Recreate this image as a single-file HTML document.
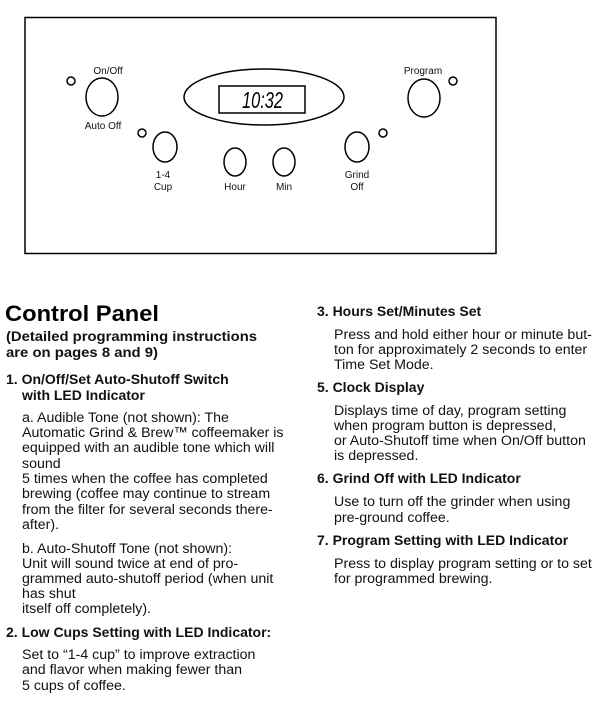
<!DOCTYPE html>
<html><head><style>
html,body{margin:0;padding:0;background:#fff;}
svg{display:block;font-family:"Liberation Sans",Arial,sans-serif;}
.b{font-size:14.2px;fill:#111;}
.h{font-size:14px;font-weight:bold;fill:#111;}
.l{font-size:10px;fill:#111;}
</style></head><body>
<svg width="610" height="707" viewBox="0 0 610 707" xmlns="http://www.w3.org/2000/svg">
<rect x="25" y="17.5" width="471" height="236" fill="none" stroke="#000" stroke-width="1.5"/>
<g fill="none" stroke="#000" stroke-width="1.5">
<circle cx="71" cy="81" r="4"/>
<ellipse cx="102" cy="97" rx="16" ry="19"/>
<ellipse cx="264" cy="97" rx="80" ry="28"/>
<rect x="219" y="86" width="86" height="27"/>
<ellipse cx="424" cy="98" rx="16" ry="19"/>
<circle cx="453" cy="81" r="4"/>
<circle cx="142" cy="133" r="4"/>
<ellipse cx="165" cy="147" rx="12" ry="15"/>
<ellipse cx="235" cy="162" rx="11" ry="14"/>
<ellipse cx="284" cy="162" rx="11" ry="14"/>
<ellipse cx="357" cy="147" rx="12" ry="15"/>
<circle cx="383" cy="133" r="4"/>
</g>
<text x="242" y="108" font-size="23" font-style="italic" fill="#000" textLength="41" lengthAdjust="spacingAndGlyphs">10:32</text>
<g class="l" text-anchor="middle">
<text x="108" y="74">On/Off</text>
<text x="103" y="129">Auto Off</text>
<text x="423" y="74">Program</text>
<text x="163" y="178">1-4</text>
<text x="163" y="190">Cup</text>
<text x="235" y="190">Hour</text>
<text x="284" y="190">Min</text>
<text x="357" y="178">Grind</text>
<text x="357" y="190">Off</text>
</g>
<text x="5" y="321" font-size="22" font-weight="bold" fill="#000" textLength="154" lengthAdjust="spacingAndGlyphs">Control Panel</text>
<text class="h" x="6" y="341" textLength="251" lengthAdjust="spacingAndGlyphs">(Detailed programming instructions</text>
<text class="h" x="6" y="357" textLength="152" lengthAdjust="spacingAndGlyphs">are on pages 8 and 9)</text>
<text class="h" x="6" y="384">1. On/Off/Set Auto-Shutoff Switch</text>
<text class="h" x="22" y="400">with LED Indicator</text>
<g class="b">
<text x="22" y="422">a. Audible Tone (not shown): The</text>
<text x="22" y="437">Automatic Grind &amp; Brew™ coffeemaker is</text>
<text x="22" y="452">equipped with an audible tone which will</text>
<text x="22" y="468">sound</text>
<text x="22" y="483">5 times when the coffee has completed</text>
<text x="22" y="498">brewing (coffee may continue to stream</text>
<text x="22" y="514">from the filter for several seconds there-</text>
<text x="22" y="529">after).</text>
<text x="22" y="553">b. Auto-Shutoff Tone (not shown):</text>
<text x="22" y="568">Unit will sound twice at end of pro-</text>
<text x="22" y="583">grammed auto-shutoff period (when unit</text>
<text x="22" y="598">has shut</text>
<text x="22" y="613">itself off completely).</text>
</g>
<text class="h" x="6" y="637">2. Low Cups Setting with LED Indicator:</text>
<g class="b">
<text x="22" y="659">Set to “1-4 cup” to improve extraction</text>
<text x="22" y="674">and flavor when making fewer than</text>
<text x="22" y="690">5 cups of coffee.</text>
</g>
<text class="h" x="317" y="316">3. Hours Set/Minutes Set</text>
<g class="b">
<text x="334" y="339">Press and hold either hour or minute but-</text>
<text x="334" y="354">ton for approximately 2 seconds to enter</text>
<text x="334" y="369">Time Set Mode.</text>
</g>
<text class="h" x="317" y="392">5. Clock Display</text>
<g class="b">
<text x="334" y="415">Displays time of day, program setting</text>
<text x="334" y="430">when program button is depressed,</text>
<text x="334" y="445">or Auto-Shutoff time when On/Off button</text>
<text x="334" y="460">is depressed.</text>
</g>
<text class="h" x="317" y="483">6. Grind Off with LED Indicator</text>
<g class="b">
<text x="334" y="506">Use to turn off the grinder when using</text>
<text x="334" y="522">pre-ground coffee.</text>
</g>
<text class="h" x="317" y="545">7. Program Setting with LED Indicator</text>
<g class="b">
<text x="334" y="568">Press to display program setting or to set</text>
<text x="334" y="583">for programmed brewing.</text>
</g>
</svg>
</body></html>
